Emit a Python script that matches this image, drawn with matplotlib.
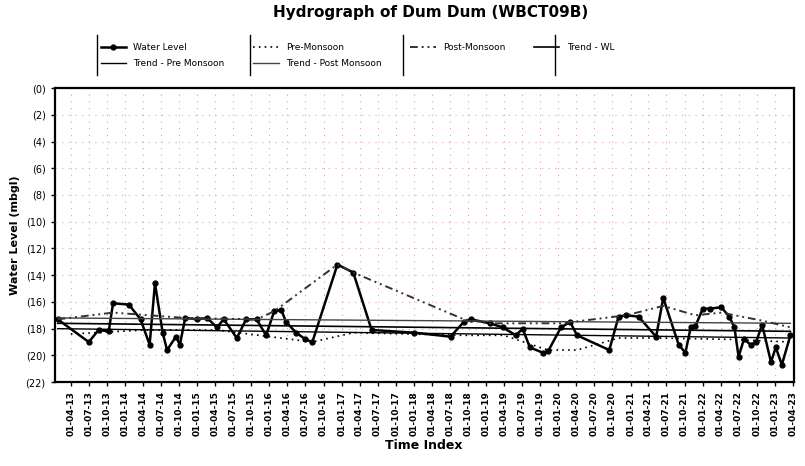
import numpy as np
import pandas as pd
import matplotlib.pyplot as plt
import matplotlib.dates as mdates
from matplotlib.lines import Line2D

# water level readings (mbgl, shown as depth below ground)
wl_dates = ["2013-01-25", "2013-07-01", "2013-08-20", "2013-10-10", "2013-11-01",
            "2014-01-20", "2014-03-20", "2014-05-05", "2014-06-01", "2014-07-10",
            "2014-08-01", "2014-09-15", "2014-10-05", "2014-11-01", "2015-01-01",
            "2015-02-20", "2015-04-10", "2015-05-15", "2015-07-20", "2015-09-05",
            "2015-10-28", "2015-12-15", "2016-01-25", "2016-03-01", "2016-03-25",
            "2016-05-15", "2016-07-01", "2016-08-05", "2016-12-10", "2017-02-28",
            "2017-06-01", "2018-01-01", "2018-07-05", "2018-09-10", "2018-10-15",
            "2019-01-20", "2019-03-25", "2019-06-01", "2019-07-05", "2019-08-10",
            "2019-10-15", "2019-11-10", "2020-01-15", "2020-03-01", "2020-04-05",
            "2020-09-15", "2020-11-01", "2020-12-10", "2021-02-10", "2021-05-10",
            "2021-06-15", "2021-09-01", "2021-10-05", "2021-11-01", "2021-11-25",
            "2022-01-01", "2022-02-05", "2022-04-05", "2022-05-15", "2022-06-10",
            "2022-07-01", "2022-07-28", "2022-09-01", "2022-09-28", "2022-10-28",
            "2022-12-12", "2023-01-05", "2023-02-05", "2023-03-20"]
wl_values = [17.3, 19.0, 18.1, 18.2, 16.1,
             16.2, 17.3, 19.2, 14.6, 18.3,
             19.6, 18.6, 19.2, 17.2, 17.3,
             17.2, 17.9, 17.3, 18.7, 17.3,
             17.3, 18.5, 16.7, 16.6, 17.5,
             18.3, 18.8, 19.0, 13.2, 13.8,
             18.1, 18.3, 18.6, 17.5, 17.3,
             17.6, 17.9, 18.5, 18.0, 19.4,
             19.8, 19.7, 17.9, 17.5, 18.5,
             19.6, 17.1, 17.0, 17.1, 18.6,
             15.7, 19.2, 19.8, 17.9, 17.8,
             16.5, 16.5, 16.4, 17.1, 17.9,
             20.1, 18.8, 19.2, 19.0, 17.7,
             20.5, 19.4, 20.7, 18.5]

pre_dates = ["2013-04-01", "2014-04-15", "2015-04-10", "2016-08-05", "2017-03-01",
             "2018-09-10", "2019-04-01", "2019-11-10", "2020-04-05", "2020-11-01",
             "2021-05-10", "2022-05-15", "2023-03-20"]
pre_values = [18.4, 18.1, 18.1, 19.0, 18.3,
              18.5, 18.5, 19.6, 19.6, 18.7,
              18.7, 18.8, 19.0]

post_dates = ["2013-01-25", "2013-11-01", "2014-11-01", "2015-10-28", "2016-01-25",
              "2016-12-10", "2017-02-28", "2018-09-10", "2019-01-20", "2020-01-15",
              "2020-12-10", "2021-06-15", "2021-11-25", "2022-04-05", "2022-10-28",
              "2023-03-20"]
post_values = [17.3, 16.8, 17.2, 17.3, 16.7,
               13.2, 13.8, 17.3, 17.6, 17.6,
               17.0, 16.3, 17.0, 16.8, 17.4,
               17.9]

trend_dates = ["2013-01-25", "2023-03-20"]
trend_pre = [18.0, 18.7]
trend_post = [17.2, 17.6]
trend_wl = [17.6, 18.2]

y_ticks = list(range(0, 23, 2))
x_ticks = pd.date_range("2013-04-01", "2023-04-01", freq="QS-JAN")

wl_d = pd.to_datetime(wl_dates)
pre_d = pd.to_datetime(pre_dates)
post_d = pd.to_datetime(post_dates)
tr_d = pd.to_datetime(trend_dates)

fig = plt.figure(figsize=(8.05, 4.66), dpi=100)
ax = fig.add_axes([0.068, 0.18, 0.918, 0.631])

ax.plot(wl_d, wl_values, color="black", lw=1.8, marker="o", ms=3.5, label="Water Level")
ax.plot(tr_d, trend_pre, color="black", lw=1.0, label="Trend - Pre Monsoon")
ax.plot(pre_d, pre_values, color="black", lw=1.2, ls=(0, (1, 2.5)), label="Pre-Monsoon")
ax.plot(tr_d, trend_post, color="#444444", lw=1.0, label="Trend - Post Monsoon")
ax.plot(post_d, post_values, color="#333333", lw=1.4, ls=(0, (4, 2, 1, 2, 1, 2)), label="Post-Monsoon")
ax.plot(tr_d, trend_wl, color="black", lw=1.2, label="Trend - WL")

ax.set_ylim(22, 0)
ax.set_yticks(y_ticks)
ax.set_yticklabels([f"({v})" for v in y_ticks], fontsize=7)
ax.set_xlim(pd.Timestamp("2013-01-10"), pd.Timestamp("2023-04-06"))
ax.set_xticks(x_ticks)
ax.xaxis.set_major_formatter(mdates.DateFormatter("%d-%m-%y"))
plt.setp(ax.get_xticklabels(), rotation=90, fontsize=6.5, fontweight="bold")
ax.grid(True, color="#d8a8a8", ls=(0, (1, 5)), lw=0.8)
for s in ax.spines.values():
    s.set_linewidth(1.6)
ax.tick_params(length=3, width=1)

ax.set_ylabel("Water Level (mbgl)", fontsize=8, fontweight="bold")
ax.set_xlabel("Time Index", fontsize=9, fontweight="bold", labelpad=2)
fig.suptitle("Hydrograph of Dum Dum (WBCT09B)", x=0.535, y=0.99, fontsize=11, fontweight="bold")

leg = fig.legend(loc="upper left", bbox_to_anchor=(0.115, 0.925), ncol=4, frameon=False,
                 fontsize=6.5, handlelength=2.8, columnspacing=3.2, labelspacing=0.8)
for x0 in [0.12, 0.31, 0.50, 0.69]:
    fig.add_artist(Line2D([x0, x0], [0.84, 0.925], color="black", lw=1.0))

fig.savefig("out.png", dpi=100)
